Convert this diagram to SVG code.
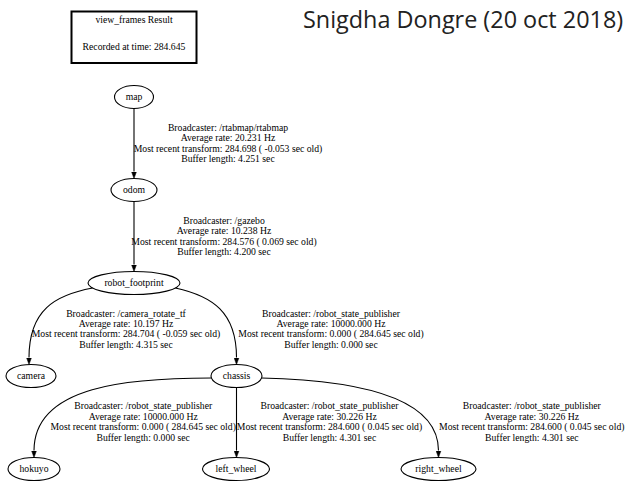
<svg xmlns="http://www.w3.org/2000/svg" width="633" height="493" viewBox="0 0 633 493">
<defs>
<style>
.n ellipse{fill:none;stroke:#000;stroke-width:1.1}
text{font-family:"Liberation Serif","Times New Roman",serif;font-size:9.7px;fill:#000}
.t{text-anchor:middle}
.e path{fill:none;stroke:#000;stroke-width:1.1;marker-end:url(#ah)}
.title{font-family:"Open Sans","Noto Sans",sans-serif;font-size:23.4px;fill:#222}
</style>
<marker id="ah" markerUnits="userSpaceOnUse" markerWidth="8" markerHeight="6" refX="0" refY="2.5" orient="auto" viewBox="0 0 8 5">
<path d="M0,0 L7,2.5 L0,5 z" fill="#000" stroke="#000" stroke-width="0.5"/>
</marker>
</defs>
<rect width="633" height="493" fill="#fff"/>
<g id="legend">
<rect x="71.5" y="11.5" width="125" height="51.5" fill="none" stroke="#000" stroke-width="2"/>
<text class="t" x="134" y="22.8">view_frames Result</text>
<text class="t" x="134" y="49.5">Recorded at time: 284.645</text>
</g>
<text class="title" x="303" y="28">Snigdha Dongre (20 oct 2018)</text>
<g id="edges" class="e">
<path d="M134,108.5 L134,171.6"/>
<path d="M134,201.5 L134,264.6"/>
<path d="M92.6,288 C55,295 29,310 29,357.6"/>
<path d="M175.4,288 C212,296 236.5,312 236.5,357.6"/>
<path d="M211.4,378 C130,378 34,385 34,450.6"/>
<path d="M236.5,387.5 L236.5,450.6"/>
<path d="M261.6,378 C350,380 438.5,395 438.5,450.6"/>
</g>
<g id="edge-labels">
<text class="t" x="228" y="130.8">Broadcaster: /rtabmap/rtabmap<tspan x="228" dy="10.4">Average rate: 20.231 Hz</tspan><tspan x="228" dy="10.4">Most recent transform: 284.698 ( -0.053 sec old)</tspan><tspan x="228" dy="10.4">Buffer length: 4.251 sec</tspan></text>
<text class="t" x="224" y="223.8">Broadcaster: /gazebo<tspan x="224" dy="10.4">Average rate: 10.238 Hz</tspan><tspan x="224" dy="10.4">Most recent transform: 284.576 ( 0.069 sec old)</tspan><tspan x="224" dy="10.4">Buffer length: 4.200 sec</tspan></text>
<text class="t" x="126" y="316.6">Broadcaster: /camera_rotate_tf<tspan x="126" dy="10.4">Average rate: 10.197 Hz</tspan><tspan x="126" dy="10.4">Most recent transform: 284.704 ( -0.059 sec old)</tspan><tspan x="126" dy="10.4">Buffer length: 4.315 sec</tspan></text>
<text class="t" x="331" y="316.6">Broadcaster: /robot_state_publisher<tspan x="331" dy="10.4">Average rate: 10000.000 Hz</tspan><tspan x="331" dy="10.4">Most recent transform: 0.000 ( 284.645 sec old)</tspan><tspan x="331" dy="10.4">Buffer length: 0.000 sec</tspan></text>
<text class="t" x="143.2" y="409.4">Broadcaster: /robot_state_publisher<tspan x="143.2" dy="10.4">Average rate: 10000.000 Hz</tspan><tspan x="143.2" dy="10.4">Most recent transform: 0.000 ( 284.645 sec old)</tspan><tspan x="143.2" dy="10.4">Buffer length: 0.000 sec</tspan></text>
<text class="t" x="329.5" y="409.4">Broadcaster: /robot_state_publisher<tspan x="329.5" dy="10.4">Average rate: 30.226 Hz</tspan><tspan x="329.5" dy="10.4">Most recent transform: 284.600 ( 0.045 sec old)</tspan><tspan x="329.5" dy="10.4">Buffer length: 4.301 sec</tspan></text>
<text class="t" x="531.8" y="409.4">Broadcaster: /robot_state_publisher<tspan x="531.8" dy="10.4">Average rate: 30.226 Hz</tspan><tspan x="531.8" dy="10.4">Most recent transform: 284.600 ( 0.045 sec old)</tspan><tspan x="531.8" dy="10.4">Buffer length: 4.301 sec</tspan></text>
</g>
<g id="map" class="n"><ellipse cx="134" cy="97" rx="19.5" ry="11.5"/><text class="t" x="134" y="100.3">map</text></g>
<g id="odom" class="n"><ellipse cx="134" cy="190" rx="23" ry="11.5"/><text class="t" x="134" y="193.3">odom</text></g>
<g id="robot_footprint" class="n"><ellipse cx="134" cy="283" rx="46" ry="11.5"/><text class="t" x="134" y="286.3">robot_footprint</text></g>
<g id="camera" class="n"><ellipse cx="31" cy="376" rx="25" ry="11.5"/><text class="t" x="31" y="379.3">camera</text></g>
<g id="chassis" class="n"><ellipse cx="236.5" cy="376" rx="25.5" ry="11.5"/><text class="t" x="236.5" y="379.3">chassis</text></g>
<g id="hokuyo" class="n"><ellipse cx="34" cy="469" rx="26" ry="11.5"/><text class="t" x="34" y="472.3">hokuyo</text></g>
<g id="left_wheel" class="n"><ellipse cx="236" cy="469" rx="33.5" ry="11.5"/><text class="t" x="236" y="472.3">left_wheel</text></g>
<g id="right_wheel" class="n"><ellipse cx="438.5" cy="469" rx="37.5" ry="11.5"/><text class="t" x="438.5" y="472.3">right_wheel</text></g>
</svg>
